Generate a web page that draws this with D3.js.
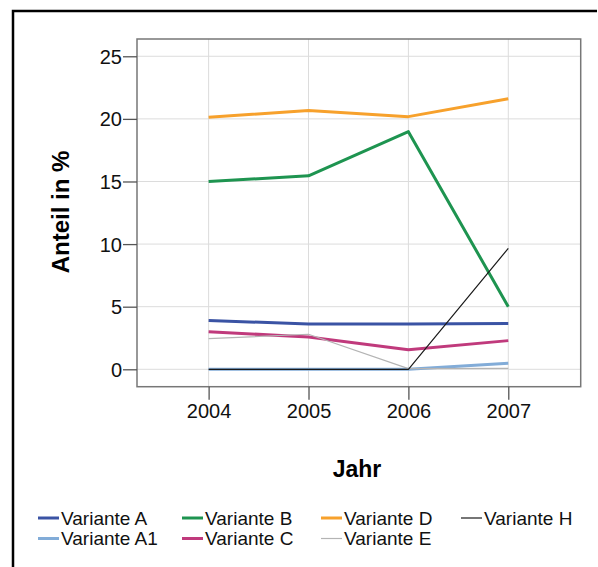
<!DOCTYPE html>
<html><head><meta charset="utf-8">
<script src="https://cdn.jsdelivr.net/npm/d3@7"></script>
<style>body{margin:0;background:#fff;}svg{display:block;font-family:"Liberation Sans",Arial,sans-serif;}</style>
</head><body>
<script>
const years = [2004, 2005, 2006, 2007];
const seriesNames = ["Variante A","Variante A1","Variante B","Variante C","Variante D","Variante E","Variante H"];
const valuesA  = [3.9, 3.62, 3.62, 3.65];
const valuesA1 = [0, 0, 0, 0.48];
const valuesB  = [15.0, 15.45, 18.98, 5.0];
const valuesC  = [3.0, 2.58, 1.57, 2.29];
const valuesD  = [20.13, 20.66, 20.18, 21.6];
const valuesE  = [2.45, 2.8, 0.05, 0.08];
const valuesH  = [0, 0, 0, 9.66];
const yTicks = [0, 5, 10, 15, 20, 25];
const colors = ["#3a53a4","#82acd8","#1e9450","#c03a7c","#f7a12c","#b4b4b4","#1a1a1a"];
const widths = [3, 3, 3, 3, 3, 1.2, 1.2];
const allValues = [valuesA, valuesA1, valuesB, valuesC, valuesD, valuesE, valuesH];

const W = 598, H = 567;
const svg = d3.select("body").append("svg").attr("width", W).attr("height", H);

// outer frame
svg.append("path").attr("d", `M13,567 L13,11 L597,11`).attr("fill","none").attr("stroke","#000").attr("stroke-width",2.5);

const L = 137, T = 39, R = 580.7, B = 386.7;
const x = d3.scaleLinear().domain([2003.283, 2007.725]).range([L, R]);
const y = d3.scaleLinear().domain([-1.39, 26.38]).range([B, T]);

// gridlines
const g = svg.append("g");
g.selectAll(".gy").data(yTicks).join("line")
  .attr("x1", L).attr("x2", R).attr("y1", d=>y(d)).attr("y2", d=>y(d))
  .attr("stroke","#dcdcdc").attr("stroke-width",1);
g.selectAll(".gx").data(years).join("line")
  .attr("y1", T).attr("y2", B).attr("x1", d=>x(d)).attr("x2", d=>x(d))
  .attr("stroke","#dcdcdc").attr("stroke-width",1);

// lines
const line = d3.line().x((d,i)=>x(years[i])).y(d=>y(d));
allValues.forEach((vals, k) => {
  svg.append("path").datum(vals).attr("d", line)
    .attr("fill","none").attr("stroke", colors[k]).attr("stroke-width", widths[k])
    .attr("stroke-linejoin","round");
});

// plot border
svg.append("rect").attr("x", L).attr("y", T).attr("width", R-L).attr("height", B-T)
  .attr("fill","none").attr("stroke","#777").attr("stroke-width",1.5);

// axes
const yAxis = d3.axisLeft(y).tickValues(yTicks).tickSize(14).tickPadding(1).tickFormat(d3.format("d"));
const ya = svg.append("g").attr("transform", `translate(${L},0)`).call(yAxis)
  .attr("font-family", "Liberation Sans, Arial, sans-serif");
ya.select(".domain").remove();
ya.selectAll("line").attr("stroke","#555").attr("stroke-width",1.3);
ya.selectAll("text").attr("font-size", 20).attr("fill","#111").attr("dy","0.35em");

const xAxis = d3.axisBottom(x).tickValues(years).tickSize(13).tickPadding(4).tickFormat(d3.format("d"));
const xa = svg.append("g").attr("transform", `translate(0,${B})`).call(xAxis)
  .attr("font-family", "Liberation Sans, Arial, sans-serif");
xa.select(".domain").remove();
xa.selectAll("line").attr("stroke","#555").attr("stroke-width",1.3);
xa.selectAll("text").attr("font-size", 20).attr("fill","#111");

// axis titles
svg.append("text").attr("transform", `translate(69,212) rotate(-90)`)
  .attr("text-anchor","middle").attr("font-size",24).attr("font-weight","bold").text("Anteil in %");
svg.append("text").attr("x", 357).attr("y", 477)
  .attr("text-anchor","middle").attr("font-size",23).attr("font-weight","bold").text("Jahr");

// legend: column-major, 2 rows
const legendCols = [38, 182, 321, 461];
const legendRows = [518, 538.5];
seriesNames.forEach((name, k) => {
  const col = Math.floor(k/2), row = k%2;
  const lx = legendCols[col], ly = legendRows[row];
  svg.append("line").attr("x1", lx).attr("x2", lx+21).attr("y1", ly).attr("y2", ly)
    .attr("stroke", colors[k]).attr("stroke-width", widths[k] < 2 ? 1.2 : 3);
  svg.append("text").attr("x", lx+23).attr("y", ly).attr("dy","0.35em")
    .attr("font-size",19).attr("fill","#111").text(name);
});
</script>
</body></html>
